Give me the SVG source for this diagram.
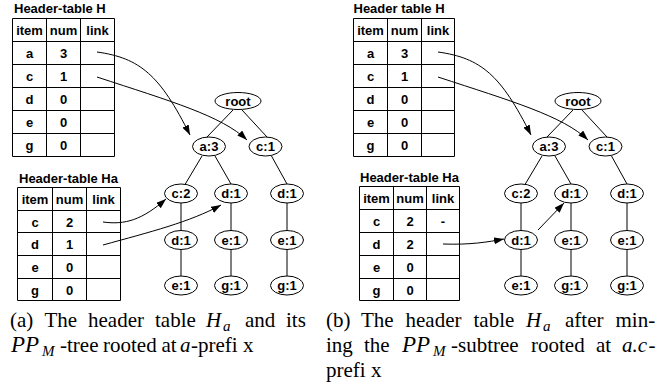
<svg xmlns="http://www.w3.org/2000/svg" width="660" height="387" viewBox="0 0 660 387">
<style>
.t{font-family:"Liberation Sans",Arial,sans-serif;font-weight:bold;font-size:13px;fill:#000}
.c{text-anchor:middle}
.g{stroke:#000;stroke-width:1;fill:none}
.n ellipse{fill:#fff;stroke:#000;stroke-width:1}
.n text{font-family:"Liberation Sans",Arial,sans-serif;font-weight:bold;font-size:13px;text-anchor:middle;fill:#000}
.e{stroke:#000;stroke-width:1;fill:none}
.a{stroke:#000;stroke-width:1;fill:none;marker-end:url(#ah)}
.cap{font-family:"Liberation Serif","Times New Roman",serif;font-size:21px;fill:#000}
.m{font-style:italic}
.pp{font-size:23px}
.s{font-family:"Liberation Serif","Times New Roman",serif;font-size:15px;font-style:italic;fill:#000}
</style>
<defs>
<marker id="ah" markerUnits="userSpaceOnUse" markerWidth="10" markerHeight="7" refX="10" refY="3.5" orient="auto">
<path d="M0,0 L10,3.5 L0,7 z" fill="#000"/>
</marker>
</defs>

<!-- (a) Header table H -->
<g id="tableH_a">
<text class="t" x="14" y="13">Header-table H</text>
<path class="g" d="M12.5,18.5H114.5V156.5H12.5Z M46.5,18.5V156.5 M80.5,18.5V156.5 M12.5,41.5H114.5 M12.5,64.5H114.5 M12.5,87.5H114.5 M12.5,110.5H114.5 M12.5,133.5H114.5"/>
<g class="t c">
<text x="29.5" y="35">item</text><text x="63.5" y="35">num</text><text x="97.5" y="35">link</text>
<text x="29.5" y="58">a</text><text x="63.5" y="58">3</text>
<text x="29.5" y="81">c</text><text x="63.5" y="81">1</text>
<text x="29.5" y="104">d</text><text x="63.5" y="104">0</text>
<text x="29.5" y="127">e</text><text x="63.5" y="127">0</text>
<text x="29.5" y="150">g</text><text x="63.5" y="150">0</text>
</g>
</g>

<!-- (a) Header table Ha -->
<g id="tableHa_a">
<text class="t" x="19" y="182.5">Header-table Ha</text>
<path class="g" d="M17.5,187.5H120.5V300.5H17.5Z M52.5,187.5V300.5 M86.5,187.5V300.5 M17.5,210.5H120.5 M17.5,232.5H120.5 M17.5,255.5H120.5 M17.5,278.5H120.5"/>
<g class="t c">
<text x="35" y="204">item</text><text x="69.5" y="204">num</text><text x="103.5" y="204">link</text>
<text x="35" y="226.5">c</text><text x="69.5" y="226.5">2</text>
<text x="35" y="249">d</text><text x="69.5" y="249">1</text>
<text x="35" y="272">e</text><text x="69.5" y="272">0</text>
<text x="35" y="294.5">g</text><text x="69.5" y="294.5">0</text>
</g>
</g>

<!-- (b) Header table H -->
<g id="tableH_b">
<text class="t" x="353.5" y="13">Header table H</text>
<path class="g" d="M353.5,18.5H454.5V156.5H353.5Z M387.5,18.5V156.5 M421.5,18.5V156.5 M353.5,41.5H454.5 M353.5,64.5H454.5 M353.5,87.5H454.5 M353.5,110.5H454.5 M353.5,133.5H454.5"/>
<g class="t c">
<text x="370.5" y="35">item</text><text x="404.5" y="35">num</text><text x="438" y="35">link</text>
<text x="370.5" y="58">a</text><text x="404.5" y="58">3</text>
<text x="370.5" y="81">c</text><text x="404.5" y="81">1</text>
<text x="370.5" y="104">d</text><text x="404.5" y="104">0</text>
<text x="370.5" y="127">e</text><text x="404.5" y="127">0</text>
<text x="370.5" y="150">g</text><text x="404.5" y="150">0</text>
</g>
</g>

<!-- (b) Header table Ha -->
<g id="tableHa_b">
<text class="t" x="360" y="181.5">Header-table Ha</text>
<path class="g" d="M359.5,186.5H459.5V300.5H359.5Z M393.5,186.5V300.5 M426.5,186.5V300.5 M359.5,209.5H459.5 M359.5,232.5H459.5 M359.5,255.5H459.5 M359.5,278.5H459.5"/>
<g class="t c">
<text x="376.5" y="203">item</text><text x="410" y="203">num</text><text x="443" y="203">link</text>
<text x="376.5" y="226">c</text><text x="410" y="226">2</text><text x="443" y="226">-</text>
<text x="376.5" y="249">d</text><text x="410" y="249">2</text>
<text x="376.5" y="272">e</text><text x="410" y="272">0</text>
<text x="376.5" y="294.5">g</text><text x="410" y="294.5">0</text>
</g>
</g>

<!-- connectors -->
<g id="connectors">
<!-- tree a edges -->
<path class="e" d="M233,110 L207,137 M242,110 L267,137 M202,156 L185,184.5 M215,156 L231,184 M271.5,156 L287,184 M181,203 V230.5 M231,203 V230.5 M287,203 V230.5 M181,249.5 V276 M231,249.5 V276 M287,249.5 V276"/>
<!-- tree b edges -->
<path class="e" d="M573,110 L547,137 M582,110 L607,137 M542,156 L525,184.5 M555,156 L571,184 M611.5,156 L627,184 M521,203 V230.5 M571,203 V230.5 M627,203 V230.5 M521,249.5 V276 M571,249.5 V276 M627,249.5 V276"/>
<!-- links (a) -->
<path class="a" d="M97,52 C140,58 160,75 190,135"/>
<path class="a" d="M97,77 C170,101 222,116 247,140"/>
<path class="a" d="M103,222 C125,225 142,220 166,199"/>
<path class="a" d="M103,245 C150,232 190,222 221,205"/>
<!-- links (b) -->
<path class="a" d="M438,52 C481,58 501,75 531,135"/>
<path class="a" d="M438,77 C511,101 563,116 588,140"/>
<path class="a" d="M443,244 C470,245 488,242 504,239"/>
<path class="a" d="M538,230 L564,203"/>
</g>

<!-- tree a nodes -->
<g id="a_root" class="n"><ellipse cx="238" cy="101" rx="23" ry="8.5"/><text x="238" y="105.5">root</text></g>
<g id="a_a3" class="n"><ellipse cx="209" cy="146.5" rx="16.5" ry="9.5"/><text x="209" y="151">a:3</text></g>
<g id="a_c1" class="n"><ellipse cx="265.5" cy="146.5" rx="16.5" ry="9.5"/><text x="265.5" y="151">c:1</text></g>
<g id="a_c2" class="n"><ellipse cx="181" cy="193.5" rx="16.5" ry="9.5"/><text x="181" y="198">c:2</text></g>
<g id="a_d1m" class="n"><ellipse cx="231" cy="193.5" rx="16.5" ry="9.5"/><text x="231" y="198">d:1</text></g>
<g id="a_d1r" class="n"><ellipse cx="287" cy="193.5" rx="16.5" ry="9.5"/><text x="287" y="198">d:1</text></g>
<g id="a_d1l" class="n"><ellipse cx="181" cy="240" rx="16.5" ry="9.5"/><text x="181" y="244.5">d:1</text></g>
<g id="a_e1m" class="n"><ellipse cx="231" cy="240" rx="16.5" ry="9.5"/><text x="231" y="244.5">e:1</text></g>
<g id="a_e1r" class="n"><ellipse cx="287" cy="240" rx="16.5" ry="9.5"/><text x="287" y="244.5">e:1</text></g>
<g id="a_e1l" class="n"><ellipse cx="181" cy="285.5" rx="16.5" ry="9.5"/><text x="181" y="290">e:1</text></g>
<g id="a_g1m" class="n"><ellipse cx="231" cy="285.5" rx="16.5" ry="9.5"/><text x="231" y="290">g:1</text></g>
<g id="a_g1r" class="n"><ellipse cx="287" cy="285.5" rx="16.5" ry="9.5"/><text x="287" y="290">g:1</text></g>

<!-- tree b nodes -->
<g id="b_root" class="n"><ellipse cx="578" cy="101" rx="23" ry="8.5"/><text x="578" y="105.5">root</text></g>
<g id="b_a3" class="n"><ellipse cx="549" cy="146.5" rx="16.5" ry="9.5"/><text x="549" y="151">a:3</text></g>
<g id="b_c1" class="n"><ellipse cx="605.5" cy="146.5" rx="16.5" ry="9.5"/><text x="605.5" y="151">c:1</text></g>
<g id="b_c2" class="n"><ellipse cx="521" cy="193.5" rx="16.5" ry="9.5"/><text x="521" y="198">c:2</text></g>
<g id="b_d1m" class="n"><ellipse cx="571" cy="193.5" rx="16.5" ry="9.5"/><text x="571" y="198">d:1</text></g>
<g id="b_d1r" class="n"><ellipse cx="627" cy="193.5" rx="16.5" ry="9.5"/><text x="627" y="198">d:1</text></g>
<g id="b_d1l" class="n"><ellipse cx="521" cy="240" rx="16.5" ry="9.5"/><text x="521" y="244.5">d:1</text></g>
<g id="b_e1m" class="n"><ellipse cx="571" cy="240" rx="16.5" ry="9.5"/><text x="571" y="244.5">e:1</text></g>
<g id="b_e1r" class="n"><ellipse cx="627" cy="240" rx="16.5" ry="9.5"/><text x="627" y="244.5">e:1</text></g>
<g id="b_e1l" class="n"><ellipse cx="521" cy="285.5" rx="16.5" ry="9.5"/><text x="521" y="290">e:1</text></g>
<g id="b_g1m" class="n"><ellipse cx="571" cy="285.5" rx="16.5" ry="9.5"/><text x="571" y="290">g:1</text></g>
<g id="b_g1r" class="n"><ellipse cx="627" cy="285.5" rx="16.5" ry="9.5"/><text x="627" y="290">g:1</text></g>

<!-- captions -->
<g id="caption_a">
<text class="cap" x="10" y="326.5">(a)</text>
<text class="cap" x="44.5" y="326.5">The</text>
<text class="cap" x="88" y="326.5">header</text>
<text class="cap" x="155" y="326.5">table</text>
<text class="cap m" x="206" y="326.5">H</text>
<text class="s" x="223" y="330.5">a</text>
<text class="cap" x="245" y="326.5">and</text>
<text class="cap" x="286" y="326.5">its</text>
<text class="cap m pp" x="11" y="351.7">PP</text>
<text class="s" x="42" y="355.7">M</text>
<text class="cap" x="60" y="351.7">-tree</text>
<text class="cap" x="103" y="351.7">rooted</text>
<text class="cap" x="161.5" y="351.7">at</text>
<text class="cap m" x="180" y="351.7">a</text>
<text class="cap" x="191" y="351.7">-prefi x</text>
</g>
<g id="caption_b">
<text class="cap" x="326" y="326.5">(b)</text>
<text class="cap" x="361" y="326.5">The</text>
<text class="cap" x="405.5" y="326.5">header</text>
<text class="cap" x="473.5" y="326.5">table</text>
<text class="cap m" x="526" y="326.5">H</text>
<text class="s" x="543" y="330.5">a</text>
<text class="cap" x="565" y="326.5">after</text>
<text class="cap" x="615.5" y="326.5">min-</text>
<text class="cap" x="326" y="351.7">ing</text>
<text class="cap" x="364" y="351.7">the</text>
<text class="cap m pp" x="402" y="351.7">PP</text>
<text class="s" x="433" y="355.7">M</text>
<text class="cap" x="451" y="351.7">-subtree</text>
<text class="cap" x="531" y="351.7">rooted</text>
<text class="cap" x="596" y="351.7">at</text>
<text class="cap m" x="622" y="351.7">a.c</text>
<text class="cap" x="648.5" y="351.7">-</text>
<text class="cap" x="326" y="376.5">prefi x</text>
</g>
</svg>
